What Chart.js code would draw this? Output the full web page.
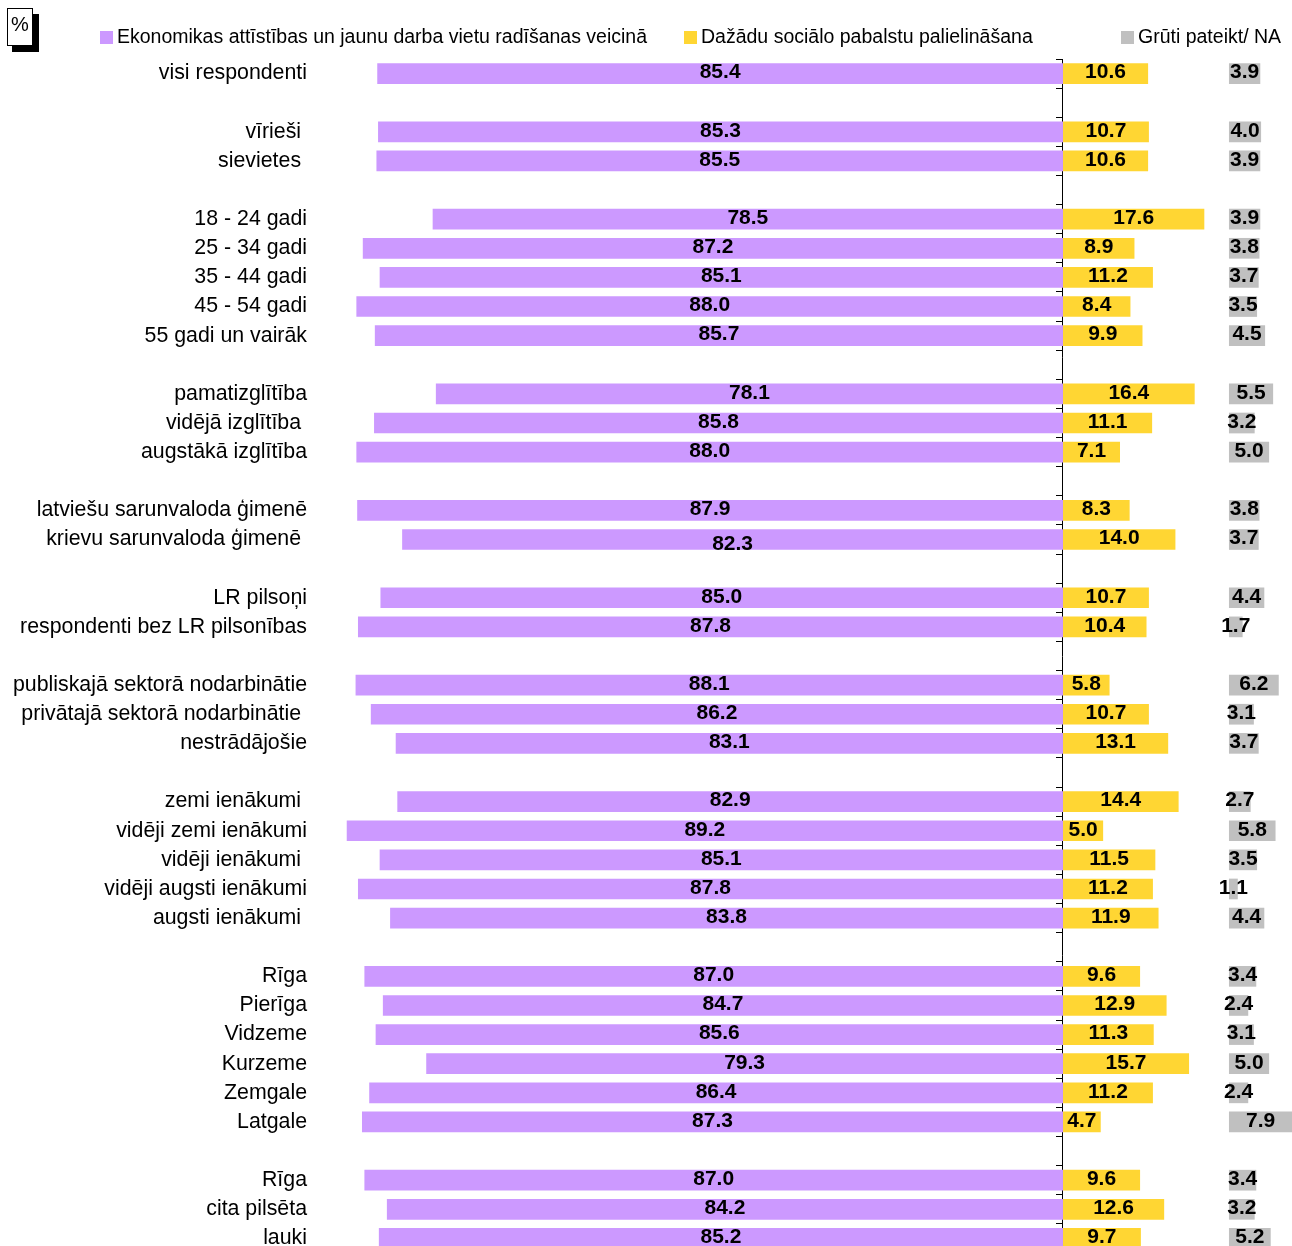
<!DOCTYPE html>
<html>
<head>
<meta charset="utf-8">
<script src="https://cdn.jsdelivr.net/npm/chart.js@4"></script>
<style>
html,body{margin:0;padding:0;background:#fff;overflow:hidden;}
#wrap{position:relative;width:1292px;height:1253px;}
</style>
</head>
<body>
<div id="wrap"><canvas id="c"></canvas></div>
<script>
// ---- DATA ----
const categories = [
  'visi respondenti', '',
  'vīrieši ', 'sievietes ', '',
  '18 - 24 gadi', '25 - 34 gadi', '35 - 44 gadi', '45 - 54 gadi', '55 gadi un vairāk', '',
  'pamatizglītība', 'vidējā izglītība ', 'augstākā izglītība', '',
  'latviešu sarunvaloda ģimenē', 'krievu sarunvaloda ģimenē ', '',
  'LR pilsoņi', 'respondenti bez LR pilsonības', '',
  'publiskajā sektorā nodarbinātie', 'privātajā sektorā nodarbinātie ', 'nestrādājošie', '',
  'zemi ienākumi ', 'vidēji zemi ienākumi', 'vidēji ienākumi ', 'vidēji augsti ienākumi', 'augsti ienākumi ', '',
  'Rīga', 'Pierīga', 'Vidzeme', 'Kurzeme', 'Zemgale', 'Latgale', '',
  'Rīga', 'cita pilsēta', 'lauki'
];
const economicGrowth = [
  85.4, null,
  85.3, 85.5, null,
  78.5, 87.2, 85.1, 88.0, 85.7, null,
  78.1, 85.8, 88.0, null,
  87.9, 82.3, null,
  85.0, 87.8, null,
  88.1, 86.2, 83.1, null,
  82.9, 89.2, 85.1, 87.8, 83.8, null,
  87.0, 84.7, 85.6, 79.3, 86.4, 87.3, null,
  87.0, 84.2, 85.2
];
const socialBenefits = [
  10.6, null,
  10.7, 10.6, null,
  17.6, 8.9, 11.2, 8.4, 9.9, null,
  16.4, 11.1, 7.1, null,
  8.3, 14.0, null,
  10.7, 10.4, null,
  5.8, 10.7, 13.1, null,
  14.4, 5.0, 11.5, 11.2, 11.9, null,
  9.6, 12.9, 11.3, 15.7, 11.2, 4.7, null,
  9.6, 12.6, 9.7
];
const hardToSay = [
  3.9, null,
  4.0, 3.9, null,
  3.9, 3.8, 3.7, 3.5, 4.5, null,
  5.5, 3.2, 5.0, null,
  3.8, 3.7, null,
  4.4, 1.7, null,
  6.2, 3.1, 3.7, null,
  2.7, 5.8, 3.5, 1.1, 4.4, null,
  3.4, 2.4, 3.1, 5.0, 2.4, 7.9, null,
  3.4, 3.2, 5.2
];
const seriesNames = [
  'Ekonomikas attīstības un jaunu darba vietu radīšanas veicinā',
  'Dažādu sociālo pabalstu palielināšana',
  'Grūti pateikt/ NA'
];
const unitLabel = '%';

// ---- LAYOUT / STYLE ----
const FONT = '"Liberation Sans", Arial, sans-serif';
const COLORS = ['#CC99FF', '#FFD633', '#C0C0C0'];
const GRAY_START = 20.67;          // offset of the third column from the axis
const X_MIN = -92.53, X_MAX = 28.52;
const seriesValues = [economicGrowth, socialBenefits, hardToSay];

const purpleData = economicGrowth.map(v => v == null ? null : [-v, 0]);
const yellowData = socialBenefits.map(v => v == null ? null : [0, v]);
const grayData = hardToSay.map(v => v == null ? null : [GRAY_START, GRAY_START + v]);

const valueLabelPlugin = {
  id: 'valueLabels',
  afterDatasetsDraw(chart) {
    const ctx = chart.ctx;
    ctx.save();
    ctx.font = 'bold 21px ' + FONT;
    ctx.fillStyle = '#000';
    ctx.textAlign = 'center';
    ctx.textBaseline = 'middle';
    chart.data.datasets.forEach((ds, i) => {
      const meta = chart.getDatasetMeta(i);
      meta.data.forEach((el, j) => {
        const v = seriesValues[i][j];
        if (v == null) return;
        const p = el.getCenterPoint();
        let dy = -1;
        if (i === 0 && j === 16) dy = 5;
        ctx.fillText(v.toFixed(1), p.x, p.y + dy);
      });
    });
    ctx.restore();
  }
};

const legendPlugin = {
  id: 'customLegend',
  afterDraw(chart) {
    const ctx = chart.ctx;
    const xs = [100, 684, 1121];
    ctx.save();
    ctx.font = '19.5px ' + FONT;
    ctx.textAlign = 'left';
    ctx.textBaseline = 'alphabetic';
    chart.data.datasets.forEach((ds, i) => {
      ctx.fillStyle = ds.backgroundColor;
      ctx.fillRect(xs[i], 31, 13, 13);
      ctx.fillStyle = '#000';
      ctx.fillText(ds.label, xs[i] + 17, 43);
    });
    ctx.restore();
  }
};

const unitBoxPlugin = {
  id: 'unitBox',
  afterDraw(chart) {
    const ctx = chart.ctx;
    ctx.save();
    ctx.fillStyle = '#000';
    ctx.fillRect(12, 14, 27, 38);
    ctx.fillStyle = '#fff';
    ctx.fillRect(7, 8, 26, 38);
    ctx.strokeStyle = '#000';
    ctx.lineWidth = 1;
    ctx.strokeRect(7.5, 8.5, 25, 37);
    ctx.fillStyle = '#000';
    ctx.font = '20px ' + FONT;
    ctx.textAlign = 'left';
    ctx.textBaseline = 'alphabetic';
    ctx.fillText(unitLabel, 11, 31);
    ctx.restore();
  }
};

new Chart(document.getElementById('c'), {
  type: 'bar',
  data: {
    labels: categories,
    datasets: [
      { label: seriesNames[0], data: purpleData, backgroundColor: COLORS[0], grouped: false },
      { label: seriesNames[1], data: yellowData, backgroundColor: COLORS[1], grouped: false },
      { label: seriesNames[2], data: grayData, backgroundColor: COLORS[2], grouped: false }
    ]
  },
  options: {
    indexAxis: 'y',
    responsive: true,
    maintainAspectRatio: false,
    animation: false,
    devicePixelRatio: 1,
    barPercentage: 0.71,
    categoryPercentage: 1,
    layout: { padding: { top: 59, left: 0, right: 0, bottom: 0 } },
    plugins: { legend: { display: false }, tooltip: { enabled: false } },
    scales: {
      x: { type: 'linear', display: false, min: X_MIN, max: X_MAX },
      y: {
        type: 'category',
        position: 'left',
        offset: true,
        grid: { display: false, drawTicks: false },
        border: { display: false },
        ticks: {
          autoSkip: false,
          color: '#000',
          padding: 13,
          font: { family: FONT, size: 21.33 }
        },
        afterFit(scale) {
          scale.width = 320;
          scale.paddingTop = 0;
          scale.paddingBottom = 0;
        }
      },
      y2: {
        type: 'category',
        axis: 'y',
        position: { x: 0 },
        offset: true,
        z: 1,
        grid: { display: true, drawOnChartArea: false, drawTicks: true, tickLength: 6, color: '#000', lineWidth: 1, offset: true },
        border: { display: true, color: '#000', width: 1 },
        ticks: { display: false }
      }
    }
  },
  plugins: [valueLabelPlugin, legendPlugin, unitBoxPlugin]
});
</script>
</body>
</html>
